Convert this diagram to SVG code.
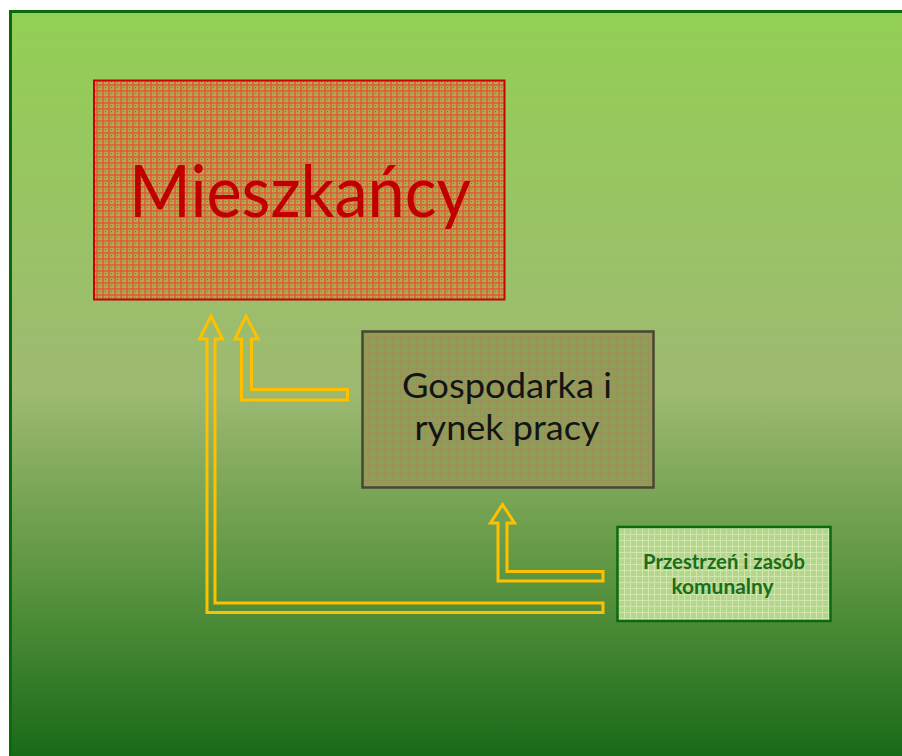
<svg xmlns="http://www.w3.org/2000/svg" width="902" height="756" viewBox="0 0 902 756">
<style>
.arrow{fill:none;stroke:#ffc000;stroke-width:3;stroke-linejoin:miter}
.lbl{font-family:Lato,"Open Sans","Liberation Sans",sans-serif;text-anchor:middle}
</style>
<defs>
<linearGradient id="bg" x1="0" y1="0" x2="0" y2="1">
<stop offset="0" stop-color="#93cf55"/>
<stop offset="0.5" stop-color="#9eb972"/>
<stop offset="0.75" stop-color="#5a9440"/>
<stop offset="1" stop-color="#136614"/>
</linearGradient>
<pattern id="pRed" width="6" height="6" patternUnits="userSpaceOnUse">
<rect width="6" height="6" fill="#b2a84c"/>
<rect x="0" y="0" width="6" height="2" fill="#e2553a" opacity="0.75"/>
<rect x="0" y="0" width="2" height="6" fill="#e2553a" opacity="0.75"/>
<rect x="3" y="3" width="1" height="1" fill="#e04030"/>
</pattern>
<pattern id="pOlive" width="8" height="8" patternUnits="userSpaceOnUse">
<rect width="8" height="8" fill="#8e9d58"/>
<rect x="0" y="0" width="8" height="1" fill="#a08a5a" opacity="0.6"/>
<rect x="0" y="0" width="1" height="8" fill="#a08a5a" opacity="0.6"/>
</pattern>
<pattern id="pLight" width="6" height="6" patternUnits="userSpaceOnUse">
<rect width="6" height="6" fill="#b4d68a"/>
<rect x="0" y="0" width="6" height="1" fill="#d4e8b4" opacity="0.8"/>
<rect x="0" y="0" width="1" height="6" fill="#d4e8b4" opacity="0.8"/>
</pattern>
</defs>
<rect x="0" y="0" width="902" height="756" fill="#ffffff"/>
<rect id="frame" x="10.5" y="11.5" width="900" height="760" fill="url(#bg)" stroke="#0b6a0b" stroke-width="3"/>
<g id="connectors">
<polygon class="arrow" points="246,316 258,339 251.5,339 251.5,389.5 347.5,389.5 347.5,400 241.5,400 241.5,339 235,339"/>
<polygon class="arrow" points="211,316 222.5,339 215,339 215,603 603,603 603,612.5 207,612.5 207,339 199.5,339"/>
<polygon class="arrow" points="502.5,504.5 514.5,523 507,523 507,571.5 603,571.5 603,581 498,581 498,523 490.5,523"/>
</g>
<g id="mieszkancy">
<rect x="94" y="80.5" width="410.5" height="219" fill="url(#pRed)" stroke="#cc0000" stroke-width="2"/>
<text class="lbl" x="300" y="217" font-size="72" fill="#c00000" textLength="342" lengthAdjust="spacingAndGlyphs">Mieszkańcy</text>
</g>
<g id="gospodarka">
<rect x="362.5" y="331.5" width="291" height="156" fill="url(#pOlive)" stroke="#4a4630" stroke-width="2.5"/>
<text class="lbl" x="507" y="398" font-size="35" fill="#141414" textLength="210" lengthAdjust="spacingAndGlyphs">Gospodarka i</text>
<text class="lbl" x="507" y="440" font-size="35" fill="#141414" textLength="185" lengthAdjust="spacingAndGlyphs">rynek pracy</text>
</g>
<g id="przestrzen">
<rect x="617.5" y="527" width="213" height="94" fill="url(#pLight)" stroke="#0b6a0b" stroke-width="2.5"/>
<text class="lbl" x="724" y="569" font-size="20.5" font-weight="bold" fill="#1a6e1a" textLength="162" lengthAdjust="spacingAndGlyphs">Przestrzeń i zasób</text>
<text class="lbl" x="722.5" y="594" font-size="20.5" font-weight="bold" fill="#1a6e1a" textLength="102" lengthAdjust="spacingAndGlyphs">komunalny</text>
</g>
</svg>
